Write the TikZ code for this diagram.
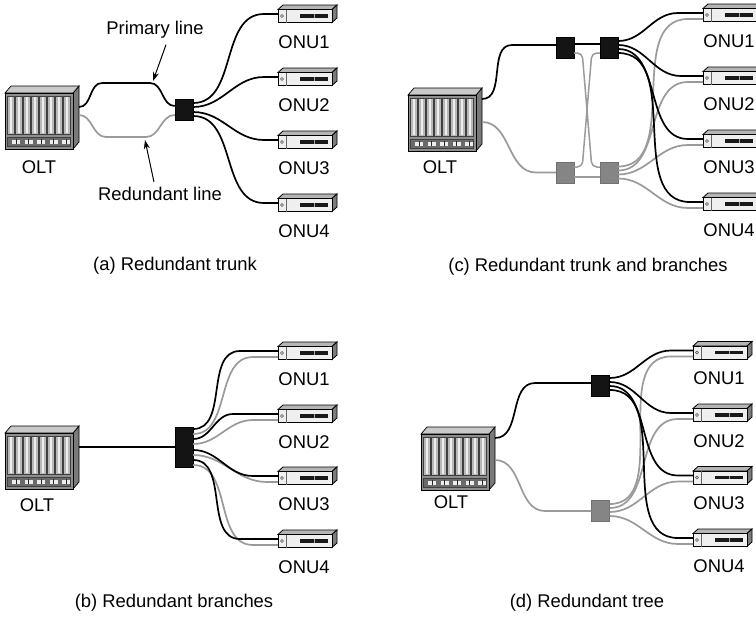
\documentclass[tikz,border=0pt]{standalone}
\usepackage{fontspec}
\setmainfont{Liberation Sans}
\usetikzlibrary{calc,arrows.meta}

\definecolor{fibgray}{HTML}{9A9A9A}
\definecolor{splitgray}{HTML}{858585}
\definecolor{oltfront}{HTML}{8E8E8E}
\definecolor{oltside}{HTML}{7A7A7A}
\definecolor{olttop}{HTML}{C9C9C9}
\definecolor{oltband}{HTML}{6A6A6A}
\definecolor{slotedge}{HTML}{B8B8B8}
\definecolor{slotlight}{HTML}{EDEDED}
\definecolor{onufront}{HTML}{EFEFEF}
\definecolor{onutop}{HTML}{B5B5B5}
\definecolor{onuside}{HTML}{7C7C7C}

% fibre: S-bend out of a splitter, then a short straight run into the ONU
\newcommand\fiberline[4]{\draw[#1] (#2) to[out=0,in=180] ([xshift=-#4pt]#3) -- (#3);}

\tikzset{
  blk/.style={line width=1.7pt, draw=black},
  gry/.style={line width=1.7pt, draw=fibgray},
  splitk/.style={draw=black, fill=black!92, minimum width=18pt, minimum height=21pt, inner sep=0pt},
  splitg/.style={draw=splitgray!85!black, fill=splitgray, minimum width=18pt, minimum height=21pt, inner sep=0pt},
  lbl/.style={font=\fontsize{18.4}{22}\selectfont, inner sep=1pt},
  note/.style={-{Stealth[length=9pt,width=6pt]}, line width=1pt, draw=black},
  % optical network unit: small desktop box, label below
  onu/.pic={
    \filldraw[fill=onutop, draw=black, line width=0.8pt] (0,-4.5) -- (5,-9) -- (59,-9) -- (54,-4.5) -- cycle;
    \filldraw[fill=onuside, draw=black, line width=0.8pt] (54,-4.5) -- (59,-9) -- (59,4) -- (54,8.5) -- cycle;
    \filldraw[fill=onufront, draw=black, line width=0.9pt] (0,-4.5) rectangle (54,8.5);
    \draw[black!60, line width=0.5pt] (8,-4.5) -- (8,8.5);
    \draw[black!70, line width=0.5pt] (4,2) circle[radius=1.5pt];
    \fill[black!90] (22,0.3) rectangle (50,3.6);
    \draw[black!35, line width=0.6pt] (36,0.3) -- (36,3.6);
    \coordinate (-k) at (0,0);
    \coordinate (-g) at (0,6);
    \node[lbl] (-t) at (26,28) {#1};
  },
  % optical line terminal: card cage
  olt/.pic={
    \filldraw[fill=oltside, draw=black, line width=0.7pt] (68,0) -- (74,-7) -- (74,49) -- (68,56) -- cycle;
    \filldraw[fill=olttop, draw=black, line width=0.7pt] (0,0) -- (6,-7) -- (74,-7) -- (68,0) -- cycle;
    \filldraw[fill=oltfront, draw=black, line width=0.8pt] (0,0) rectangle (68,56);
    \foreach \i in {0,...,7} {
      \filldraw[fill=slotedge, draw=black!75, line width=0.4pt] ({2.5+8*\i},3) rectangle ({9+8*\i},41);
      \fill[slotlight] ({4.6+8*\i},4) rectangle ({6.9+8*\i},40);
    }
    \filldraw[fill=oltband, draw=black!75, line width=0.4pt] (2.5,44) rectangle (65.5,53);
    \foreach \j in {0,...,4} {
      \fill[slotlight] ({7+12.5*\j},46.5) rectangle ({15+12.5*\j},50.5);
      \draw[black!85, line width=0.9pt] ({11+12.5*\j},45.8) -- ({11+12.5*\j},51.2);
    }
    \coordinate (-r) at (74,0);
  }
}

\begin{document}
\begin{tikzpicture}[x=1pt,y=-1pt]
\useasboundingbox (0,0) rectangle (756,619);
\fill[white] (0,0) rectangle (756,619);

%% ---------------- (a) Redundant trunk ----------------
\pic (oa) at (5,93) {olt};
\node[lbl] (oal) at (39,167) {OLT};
\node[splitk] (sa) at (184,110) {};
\pic (a1) at (278,14) {onu=ONU1};
\pic (a2) at (278,77) {onu=ONU2};
\pic (a3) at (278,140) {onu=ONU3};
\pic (a4) at (278,203) {onu=ONU4};
\draw[blk] ($(oa-r)+(0,14)$) to[out=0,in=180] (102,83) -- (150,83) to[out=0,in=180] ($(sa.west)+(0,-4)$);
\draw[gry] ($(oa-r)+(0,22)$) to[out=0,in=180] (106,137) -- (146,137) to[out=0,in=180] ($(sa.west)+(0,5)$);
\fiberline{blk}{$(sa.east)+(0,-7)$}{a1-k}{14}
\fiberline{blk}{$(sa.east)+(0,-3)$}{a2-k}{14}
\fiberline{blk}{$(sa.east)+(0,2)$}{a3-k}{14}
\fiberline{blk}{$(sa.east)+(0,6)$}{a4-k}{14}
\node[lbl] (pl) at (155,30) {Primary line};
\coordinate (plh) at (153,81);
\draw[note] ([xshift=11pt,yshift=-5pt]pl.south) -- (plh);
\node[lbl] (rl) at (160,194) {Redundant line};
\coordinate (rlh) at (145,140);
\draw[note] ([xshift=-6pt,yshift=4pt]rl.north) -- (rlh);
\node[lbl] (capa) at (175,266) {(a) Redundant trunk};

%% ---------------- (b) Redundant branches ----------------
\pic (ob) at (5,433) {olt};
\node[lbl] (obl) at (37,505) {OLT};
\node[splitk, minimum height=40pt] (sb) at (184,447) {};
\pic (b1) at (278,351) {onu=ONU1};
\pic (b2) at (278,414) {onu=ONU2};
\pic (b3) at (278,476) {onu=ONU3};
\pic (b4) at (278,539) {onu=ONU4};
\draw[blk] ($(ob-r)+(0,14)$) -- (sb.west);
\fiberline{gry}{$(sb.east)+(0,-13)$}{b1-g}{25}
\fiberline{gry}{$(sb.east)+(0,-3)$}{b2-g}{25}
\fiberline{gry}{$(sb.east)+(0,8)$}{b3-g}{11}
\fiberline{gry}{$(sb.east)+(0,18)$}{b4-g}{25}
\fiberline{blk}{$(sb.east)+(0,-18)$}{b1-k}{38}
\fiberline{blk}{$(sb.east)+(0,-8)$}{b2-k}{45}
\fiberline{blk}{$(sb.east)+(0,3)$}{b3-k}{25}
\fiberline{blk}{$(sb.east)+(0,13)$}{b4-k}{38}
\node[lbl] (capb) at (174,603) {(b) Redundant branches};

%% ---------------- (c) Redundant trunk and branches ----------------
\pic (oc) at (408,95) {olt};
\node[lbl] (ocl) at (440,167) {OLT};
\node[splitk] (sc1) at (565,47.5) {};
\node[splitk] (sc2) at (609,47.5) {};
\node[splitg] (sc3) at (565,172.5) {};
\node[splitg] (sc4) at (609,172.5) {};
\pic (c1) at (703,13) {onu=ONU1};
\pic (c2) at (703,76) {onu=ONU2};
\pic (c3) at (703,139) {onu=ONU3};
\pic (c4) at (703,202) {onu=ONU4};
\draw[blk] ($(oc-r)+(0,4)$) to[out=0,in=180] (512,45) -- ($(sc1.west)+(0,-2.5)$);
\draw[gry] ($(oc-r)+(0,27)$) to[out=0,in=180] (536,172.5) -- (sc3.west);
\draw[blk] ($(sc1.east)+(0,-3.5)$) -- ($(sc2.west)+(0,-3.5)$);
\draw[gry] ($(sc3.east)+(0,4.5)$) -- ($(sc4.west)+(0,4.5)$);
\draw[gry, line width=1.5pt, rounded corners=5pt] ($(sc1.east)+(0,5.5)$) -- ++(8,0) -- ($(sc4.west)+(-8,-5.5)$) -- ($(sc4.west)+(0,-5.5)$);
\draw[gry, line width=1.5pt, rounded corners=5pt] ($(sc3.east)+(0,-5.5)$) -- ++(8,0) -- ($(sc2.west)+(-8,5.5)$) -- ($(sc2.west)+(0,5.5)$);
\fiberline{gry}{$(sc4.east)+(0,-6)$}{c1-g}{15}
\fiberline{gry}{$(sc4.east)+(0,-2)$}{c2-g}{15}
\fiberline{gry}{$(sc4.east)+(0,2)$}{c3-g}{15}
\fiberline{gry}{$(sc4.east)+(0,6)$}{c4-g}{15}
\fiberline{blk}{$(sc2.east)+(0,-6.5)$}{c1-k}{25}
\fiberline{blk}{$(sc2.east)+(0,-2.5)$}{c2-k}{22}
\fiberline{blk}{$(sc2.east)+(0,1.5)$}{c3-k}{15}
\fiberline{blk}{$(sc2.east)+(0,5.5)$}{c4-k}{13}
\node[lbl] (capc) at (588,267) {(c) Redundant trunk and branches};

%% ---------------- (d) Redundant tree ----------------
\pic (od) at (421,434) {olt};
\node[lbl] (odl) at (451,502) {OLT};
\node[splitk] (sd1) at (600.5,385.5) {};
\node[splitg] (sd2) at (600.5,511) {};
\pic (d1) at (693,350.5) {onu=ONU1};
\pic (d2) at (693,413) {onu=ONU2};
\pic (d3) at (693,475.5) {onu=ONU3};
\pic (d4) at (693,538) {onu=ONU4};
\draw[blk] ($(od-r)+(0,4)$) to[out=0,in=180] (535,383) -- ($(sd1.west)+(0,-2.5)$);
\draw[gry] ($(od-r)+(0,26)$) to[out=0,in=180] (545,511) -- (sd2.west);
\fiberline{gry}{$(sd2.east)+(0,-7)$}{d1-g}{22}
\fiberline{gry}{$(sd2.east)+(0,-3)$}{d2-g}{15}
\fiberline{gry}{$(sd2.east)+(0,1)$}{d3-g}{15}
\fiberline{gry}{$(sd2.east)+(0,5)$}{d4-g}{15}
\fiberline{blk}{$(sd1.east)+(0,-7.5)$}{d1-k}{22}
\fiberline{blk}{$(sd1.east)+(0,-3.5)$}{d2-k}{22}
\fiberline{blk}{$(sd1.east)+(0,0.5)$}{d3-k}{15}
\fiberline{blk}{$(sd1.east)+(0,4.5)$}{d4-k}{15}
\node[lbl] (capd) at (587,603) {(d) Redundant tree};
\end{tikzpicture}
\end{document}
